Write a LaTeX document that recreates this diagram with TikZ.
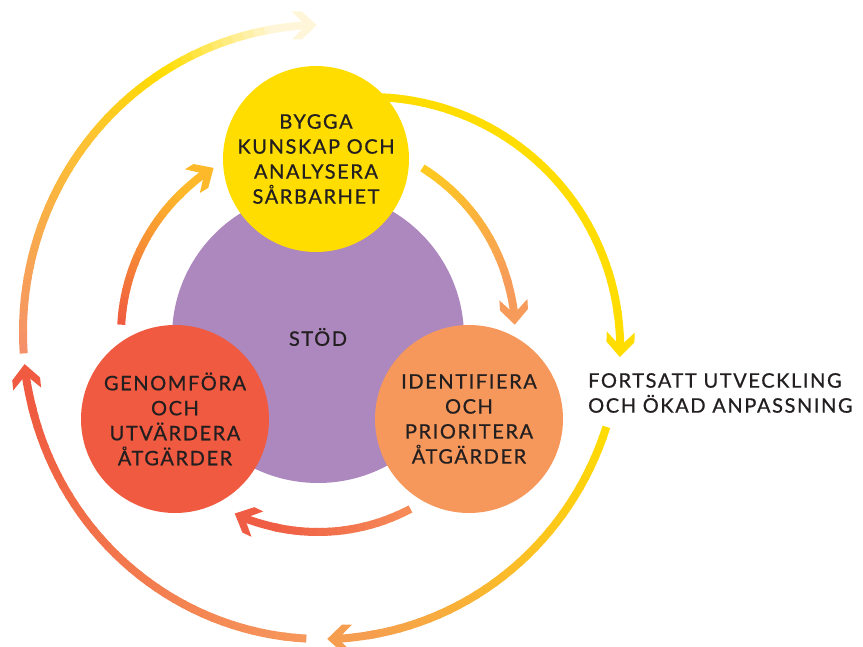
\documentclass[tikz,border=0pt]{standalone}
\usepackage{fontspec}
\setmainfont{Lato}[LetterSpace=8, FakeBold=0.7]
\usetikzlibrary{arrows.meta, calc}
\definecolor{ink}{HTML}{231F20}
\definecolor{sunYellow}{HTML}{FFDD00}
\definecolor{lavender}{HTML}{AC88BE}
\definecolor{flame}{HTML}{EF5A40}
\definecolor{apricot}{HTML}{F6985B}
\definecolor{salmon}{HTML}{F4906A}
\definecolor{amber}{HTML}{FDC530}
\definecolor{paleCream}{HTML}{FFF6DA}
\definecolor{softOrange}{HTML}{F69E4F}
\definecolor{goldOrange}{HTML}{FDB92A}
\definecolor{warmYellow}{HTML}{FFCB1E}
\definecolor{peach}{HTML}{F79B5B}
\definecolor{coral}{HTML}{F68C58}
\definecolor{redOrange}{HTML}{EF5D44}
% broad chevron tip
\pgfdeclarearrow{
  name=Chevron,
  setup code={
    \pgfarrowssettipend{0pt}
    \pgfarrowssetbackend{-25pt}
    \pgfarrowssetlineend{-10pt}
    \pgfarrowshullpoint{0pt}{0pt}
    \pgfarrowsupperhullpoint{-25pt}{14pt}
  },
  drawing code={
    \pgfpathmoveto{\pgfpointorigin}
    \pgfpathlineto{\pgfpoint{-15pt}{14pt}}
    \pgfpathlineto{\pgfpoint{-25pt}{14pt}}
    \pgfpathlineto{\pgfpoint{-11pt}{0pt}}
    \pgfpathlineto{\pgfpoint{-25pt}{-14pt}}
    \pgfpathlineto{\pgfpoint{-15pt}{-14pt}}
    \pgfpathclose
    \pgfusepathqfill
  },
}
\tikzset{
  font=\fontsize{20}{25}\selectfont,
  ring/.style={line width=8pt, line cap=butt},
  barb/.style={-Chevron},
  phase/.style={circle, minimum size=188pt, inner sep=0pt, align=center, text=ink}
}
% arc in small pieces, colour going from #6 to #7
\newcommand{\gradarc}[7]{%
  \pgfmathtruncatemacro{\npieces}{max(2,abs(#5-#4)/2)}
  \foreach \i in {1,...,\npieces}{
    \pgfmathsetmacro{\arcA}{#4+(#5-#4)*(\i-1)/\npieces}
    \pgfmathsetmacro{\arcB}{#4+(#5-#4)*\i/\npieces+0.3*sign(#5-#4)}
    \pgfmathtruncatemacro{\mixpc}{100*(\i-0.5)/\npieces}
    \draw[ring, draw={#7!\mixpc!#6}] ($(#1)+(\arcA:#2pt and #3pt)$)
      arc[start angle=\arcA, end angle=\arcB, x radius=#2pt, y radius=#3pt];
  }}
% same, with the tip at the end
\newcommand{\gradarrow}[7]{%
  \pgfmathsetmacro{\tipspan}{2400/#2*sign(#5-#4)}
  \pgfmathsetmacro{\tipfrom}{#5-\tipspan}
  \gradarc{#1}{#2}{#3}{#4}{\tipfrom}{#6}{#7}
  \pgfmathsetmacro{\tipfrom}{#5-\tipspan-sign(#5-#4)}
  \draw[ring, barb, color=#7] ($(#1)+(\tipfrom:#2pt and #3pt)$)
    arc[start angle=\tipfrom, end angle=#5, x radius=#2pt, y radius=#3pt];
}

\begin{document}
\begin{tikzpicture}[x=1pt, y=1pt]
  \useasboundingbox (0,0) rectangle (863,-647);
  \coordinate (outer) at (322,-332);
  \coordinate (inner) at (318,-335);
  \coordinate (loop) at (370,-347);

  % outer loop
  \gradarc{outer}{299}{307}{184}{140}{salmon}{amber}
  \gradarc{outer}{299}{307}{140}{122}{amber}{sunYellow}
  \gradarrow{outer}{299}{307}{122}{91}{sunYellow}{paleCream}
  \gradarrow{loop}{250}{250}{100}{-2.3}{sunYellow}{sunYellow}
  \gradarrow{outer}{299}{307}{-18}{-89}{sunYellow}{softOrange}
  \gradarrow{outer}{299}{307}{267}{186}{apricot}{flame}

  % inner loop
  \gradarrow{inner}{197}{197}{177}{122}{flame}{goldOrange}
  \gradarrow{inner}{197}{197}{58}{3}{warmYellow}{peach}
  \gradarrow{inner}{197}{197}{-62}{-115}{coral}{redOrange}

  \node[phase, fill=lavender, minimum size=292pt] (stod) at (318,-337) {STÖD};
  \node[phase, fill=sunYellow, minimum size=186pt] (bygga) at (316,-159)
    {BYGGA\\KUNSKAP OCH\\ANALYSERA\\SÅRBARHET};
  \node[phase, fill=flame] (genomfora) at (175,-419)
    {GENOMFÖRA\\OCH\\UTVÄRDERA\\ÅTGÄRDER};
  \node[phase, fill=apricot] (identifiera) at (469,-419)
    {IDENTIFIERA\\OCH\\PRIORITERA\\ÅTGÄRDER};
  \node[anchor=west, align=left, text=ink, inner sep=0pt] (utveckling) at (588,-393)
    {FORTSATT UTVECKLING\\OCH ÖKAD ANPASSNING};
\end{tikzpicture}
\end{document}
